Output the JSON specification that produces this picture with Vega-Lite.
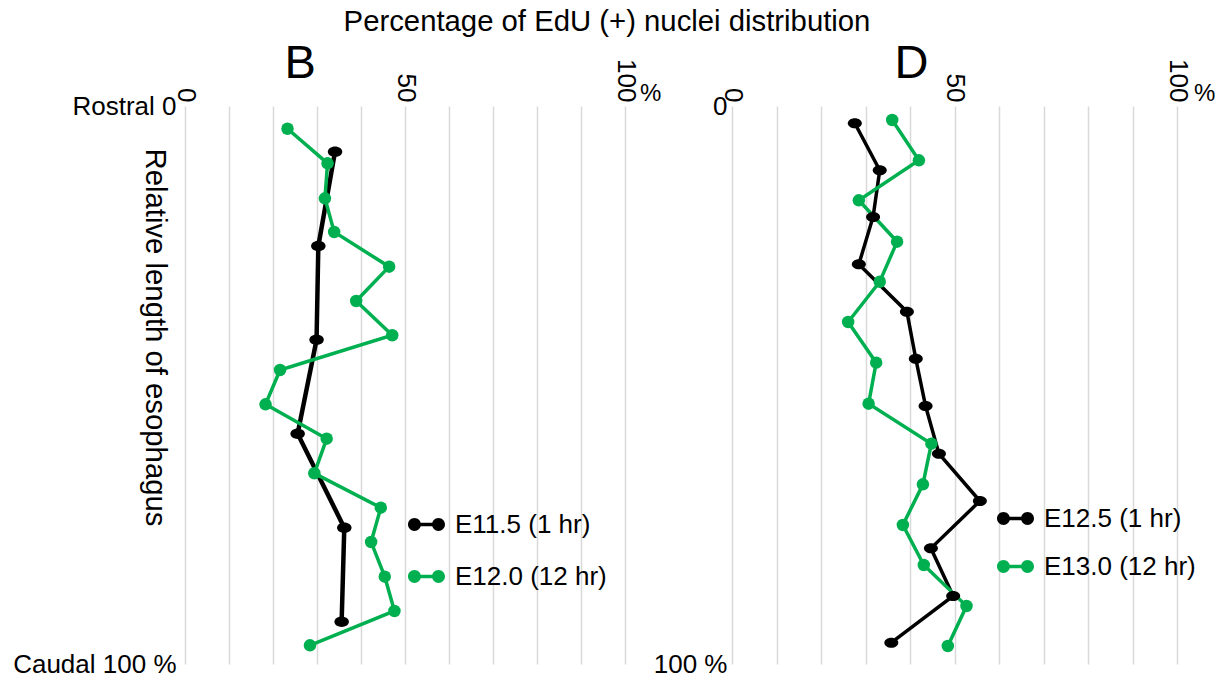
{
  "$schema": "https://vega.github.io/schema/vega-lite/v6.json",
  "background": "white",
  "padding": {"left": 12, "top": 7, "right": 5, "bottom": 5},
  "config": {
    "font": "Liberation Sans",
    "view": {"stroke": null},
    "axis": {"domain": false, "ticks": false, "labelColor": "black", "titleColor": "black", "labelFont": "Liberation Sans", "titleFont": "Liberation Sans", "titleFontWeight": "normal"},
    "legend": {"labelColor": "black", "labelFont": "Liberation Sans"},
    "title": {"font": "Liberation Sans", "fontWeight": "normal", "color": "black"}
  },
  "title": {"text": "Percentage of EdU (+) nuclei distribution", "fontSize": 29.3, "anchor": "middle", "frame": "group", "dx": 422, "offset": 2},
  "datasets": {
    "B": [
      {"series": "E11.5 (1 hr)", "length": 8.19, "pct": 34.1},
      {"series": "E11.5 (1 hr)", "length": 25.09, "pct": 30.3},
      {"series": "E11.5 (1 hr)", "length": 41.88, "pct": 29.9},
      {"series": "E11.5 (1 hr)", "length": 58.73, "pct": 25.6},
      {"series": "E11.5 (1 hr)", "length": 75.57, "pct": 36.2},
      {"series": "E11.5 (1 hr)", "length": 92.42, "pct": 35.6},
      {"series": "E12.0 (12 hr)", "length": 4.07, "pct": 23.3},
      {"series": "E12.0 (12 hr)", "length": 10.27, "pct": 32.4},
      {"series": "E12.0 (12 hr)", "length": 16.54, "pct": 31.8},
      {"series": "E12.0 (12 hr)", "length": 22.58, "pct": 33.9},
      {"series": "E12.0 (12 hr)", "length": 28.8, "pct": 46.4},
      {"series": "E12.0 (12 hr)", "length": 34.95, "pct": 38.9},
      {"series": "E12.0 (12 hr)", "length": 41.09, "pct": 47.1},
      {"series": "E12.0 (12 hr)", "length": 47.31, "pct": 21.6},
      {"series": "E12.0 (12 hr)", "length": 53.46, "pct": 18.3},
      {"series": "E12.0 (12 hr)", "length": 59.62, "pct": 32.2},
      {"series": "E12.0 (12 hr)", "length": 65.82, "pct": 29.4},
      {"series": "E12.0 (12 hr)", "length": 71.99, "pct": 44.5},
      {"series": "E12.0 (12 hr)", "length": 78.14, "pct": 42.3},
      {"series": "E12.0 (12 hr)", "length": 84.35, "pct": 45.4},
      {"series": "E12.0 (12 hr)", "length": 90.5, "pct": 47.6},
      {"series": "E12.0 (12 hr)", "length": 96.65, "pct": 28.4}
    ],
    "D": [
      {"series": "E12.5 (1 hr)", "length": 3.1, "pct": 27.6},
      {"series": "E12.5 (1 hr)", "length": 11.52, "pct": 33.2},
      {"series": "E12.5 (1 hr)", "length": 19.89, "pct": 31.7},
      {"series": "E12.5 (1 hr)", "length": 28.37, "pct": 28.5},
      {"series": "E12.5 (1 hr)", "length": 36.86, "pct": 39.3},
      {"series": "E12.5 (1 hr)", "length": 45.29, "pct": 41.3},
      {"series": "E12.5 (1 hr)", "length": 53.76, "pct": 43.5},
      {"series": "E12.5 (1 hr)", "length": 62.31, "pct": 46.5},
      {"series": "E12.5 (1 hr)", "length": 70.79, "pct": 55.7},
      {"series": "E12.5 (1 hr)", "length": 79.27, "pct": 44.7},
      {"series": "E12.5 (1 hr)", "length": 87.81, "pct": 49.7},
      {"series": "E12.5 (1 hr)", "length": 96.18, "pct": 35.8},
      {"series": "E13.0 (12 hr)", "length": 2.51, "pct": 36.0},
      {"series": "E13.0 (12 hr)", "length": 9.73, "pct": 42.0},
      {"series": "E13.0 (12 hr)", "length": 16.9, "pct": 28.5},
      {"series": "E13.0 (12 hr)", "length": 24.32, "pct": 37.1},
      {"series": "E13.0 (12 hr)", "length": 31.49, "pct": 33.2},
      {"series": "E13.0 (12 hr)", "length": 38.71, "pct": 26.1},
      {"series": "E13.0 (12 hr)", "length": 46.0, "pct": 32.4},
      {"series": "E13.0 (12 hr)", "length": 53.35, "pct": 30.7},
      {"series": "E13.0 (12 hr)", "length": 60.52, "pct": 44.8},
      {"series": "E13.0 (12 hr)", "length": 67.8, "pct": 42.9},
      {"series": "E13.0 (12 hr)", "length": 75.09, "pct": 38.4},
      {"series": "E13.0 (12 hr)", "length": 82.26, "pct": 43.1},
      {"series": "E13.0 (12 hr)", "length": 89.61, "pct": 52.7},
      {"series": "E13.0 (12 hr)", "length": 96.77, "pct": 48.5}
    ]
  },
  "spacing": 107,
  "bounds": "flush",
  "resolve": {
    "scale": {"color": "independent"},
    "legend": {"color": "independent"}
  },
  "hconcat": [
    {
      "width": 440,
      "height": 558,
      "layer": [
        {
          "data": {"name": "B"},
          "transform": [{"filter": "datum.series == 'E11.5 (1 hr)'"}],
          "mark": {"type": "line", "color": "#000000", "strokeWidth": 4.5},
          "encoding": {
            "x": {"field": "pct", "type": "quantitative", "scale": {"domain": [0, 100], "nice": false},
              "axis": {"orient": "top", "values": [0, 10, 20, 30, 40, 50, 60, 70, 80, 90, 100], "labelExpr": "datum.value % 50 == 0 ? datum.label : ''", "labelAngle": 90, "labelAlign": "right", "labelBaseline": "middle", "labelFontSize": 26, "labelPadding": 4, "labelFlush": false, "labelOverlap": false, "grid": true, "gridColor": "#d9d9d9", "gridWidth": 1.5,
                "title": "B", "titleFontSize": 47, "titleX": 99, "titleY": -29, "titleAlign": "left", "titleBaseline": "alphabetic", "titleAngle": 0}},
            "y": {"field": "length", "type": "quantitative", "scale": {"domain": [0, 100], "reverse": true, "nice": false},
              "axis": {"values": [0, 100], "labelExpr": "datum.value == 0 ? 'Rostral 0' : 'Caudal 100 %'", "grid": false, "labelFontSize": 26, "labelPadding": 9, "labelFlush": false, "labelBaseline": "middle",
                "title": "Relative length of esophagus", "titleFontSize": 29.3, "titleAngle": 90, "titleX": -31, "titleY": 231, "titleAlign": "center", "titleBaseline": "middle"}},
            "order": {"field": "length", "type": "quantitative"}
          }
        },
        {
          "data": {"name": "B"},
          "transform": [{"filter": "datum.series == 'E12.0 (12 hr)'"}],
          "mark": {"type": "line", "color": "#00b050", "strokeWidth": 3.5},
          "encoding": {
            "x": {"field": "pct", "type": "quantitative"},
            "y": {"field": "length", "type": "quantitative"},
            "order": {"field": "length", "type": "quantitative"}
          }
        },
        {
          "data": {"name": "B"},
          "transform": [{"filter": "datum.series == 'E11.5 (1 hr)'"}],
          "mark": {"type": "point", "filled": true, "opacity": 1, "shape": "M-1,0A1,0.72 0 1,1 1,0A1,0.72 0 1,1 -1,0Z", "size": 210},
          "encoding": {
            "x": {"field": "pct", "type": "quantitative"},
            "y": {"field": "length", "type": "quantitative"},
            "color": {"field": "series", "type": "nominal", "scale": {"domain": ["E11.5 (1 hr)", "E12.0 (12 hr)"], "range": ["#000000", "#00b050"]},
              "legend": {"orient": "none", "legendX": 223, "legendY": 400, "title": null, "symbolType": "M-0.3,0A0.35,0.35 0 1,1 -1,0A0.35,0.35 0 1,1 -0.3,0Z M1,0A0.35,0.35 0 1,1 0.3,0A0.35,0.35 0 1,1 1,0Z M-0.65,-0.09L0.65,-0.09L0.65,0.09L-0.65,0.09Z", "symbolSize": 1369, "symbolStrokeWidth": 0, "symbolOpacity": 1, "labelFontSize": 26, "labelOffset": 10, "rowPadding": 20, "padding": 0,
                "encode": {"symbols": {"update": {"shape": {"value": "M-0.3,0A0.35,0.35 0 1,1 -1,0A0.35,0.35 0 1,1 -0.3,0Z M1,0A0.35,0.35 0 1,1 0.3,0A0.35,0.35 0 1,1 1,0Z M-0.65,-0.09L0.65,-0.09L0.65,0.09L-0.65,0.09Z"}, "size": {"value": 1369}, "strokeWidth": {"value": 0}}}}}}
          }
        },
        {
          "data": {"name": "B"},
          "transform": [{"filter": "datum.series == 'E12.0 (12 hr)'"}],
          "mark": {"type": "point", "filled": true, "opacity": 1, "shape": "circle", "size": 156},
          "encoding": {
            "x": {"field": "pct", "type": "quantitative"},
            "y": {"field": "length", "type": "quantitative"},
            "color": {"field": "series", "type": "nominal", "scale": {"domain": ["E11.5 (1 hr)", "E12.0 (12 hr)"], "range": ["#000000", "#00b050"]},
              "legend": {"orient": "none", "legendX": 223, "legendY": 400, "title": null, "symbolType": "M-0.3,0A0.35,0.35 0 1,1 -1,0A0.35,0.35 0 1,1 -0.3,0Z M1,0A0.35,0.35 0 1,1 0.3,0A0.35,0.35 0 1,1 1,0Z M-0.65,-0.09L0.65,-0.09L0.65,0.09L-0.65,0.09Z", "symbolSize": 1369, "symbolStrokeWidth": 0, "symbolOpacity": 1, "labelFontSize": 26, "labelOffset": 10, "rowPadding": 20, "padding": 0,
                "encode": {"symbols": {"update": {"shape": {"value": "M-0.3,0A0.35,0.35 0 1,1 -1,0A0.35,0.35 0 1,1 -0.3,0Z M1,0A0.35,0.35 0 1,1 0.3,0A0.35,0.35 0 1,1 1,0Z M-0.65,-0.09L0.65,-0.09L0.65,0.09L-0.65,0.09Z"}, "size": {"value": 1369}, "strokeWidth": {"value": 0}}}}}}
          }
        },
        {
          "data": {"values": [{}]},
          "mark": {"type": "text", "text": "%", "align": "left", "baseline": "alphabetic", "dx": 15, "dy": -5, "fontSize": 24, "color": "black"},
          "encoding": {"x": {"datum": 100}, "y": {"datum": 0}}
        }
      ]
    },
    {
      "width": 445,
      "height": 558,
      "layer": [
        {
          "data": {"name": "D"},
          "transform": [{"filter": "datum.series == 'E12.5 (1 hr)'"}],
          "mark": {"type": "line", "color": "#000000", "strokeWidth": 3.5},
          "encoding": {
            "x": {"field": "pct", "type": "quantitative", "scale": {"domain": [0, 100], "nice": false},
              "axis": {"orient": "top", "values": [0, 10, 20, 30, 40, 50, 60, 70, 80, 90, 100], "labelExpr": "datum.value % 50 == 0 ? datum.label : ''", "labelAngle": 90, "labelAlign": "right", "labelBaseline": "middle", "labelFontSize": 26, "labelPadding": 4, "labelFlush": false, "labelOverlap": false, "grid": true, "gridColor": "#d9d9d9", "gridWidth": 1.5,
                "title": "D", "titleFontSize": 47, "titleX": 162, "titleY": -29, "titleAlign": "left", "titleBaseline": "alphabetic", "titleAngle": 0}},
            "y": {"field": "length", "type": "quantitative", "scale": {"domain": [0, 100], "reverse": true, "nice": false},
              "axis": {"values": [0, 100], "labelExpr": "datum.value == 0 ? '0' : '100 %'", "grid": false, "labelFontSize": 26, "labelPadding": 5, "labelFlush": false, "labelBaseline": "middle", "title": null}},
            "order": {"field": "length", "type": "quantitative"}
          }
        },
        {
          "data": {"name": "D"},
          "transform": [{"filter": "datum.series == 'E13.0 (12 hr)'"}],
          "mark": {"type": "line", "color": "#00b050", "strokeWidth": 3.5},
          "encoding": {
            "x": {"field": "pct", "type": "quantitative"},
            "y": {"field": "length", "type": "quantitative"},
            "order": {"field": "length", "type": "quantitative"}
          }
        },
        {
          "data": {"name": "D"},
          "transform": [{"filter": "datum.series == 'E12.5 (1 hr)'"}],
          "mark": {"type": "point", "filled": true, "opacity": 1, "shape": "M-1,0A1,0.72 0 1,1 1,0A1,0.72 0 1,1 -1,0Z", "size": 196},
          "encoding": {
            "x": {"field": "pct", "type": "quantitative"},
            "y": {"field": "length", "type": "quantitative"},
            "color": {"field": "series", "type": "nominal", "scale": {"domain": ["E12.5 (1 hr)", "E13.0 (12 hr)"], "range": ["#000000", "#00b050"]},
              "legend": {"orient": "none", "legendX": 265, "legendY": 394, "title": null, "symbolType": "M-0.3,0A0.35,0.35 0 1,1 -1,0A0.35,0.35 0 1,1 -0.3,0Z M1,0A0.35,0.35 0 1,1 0.3,0A0.35,0.35 0 1,1 1,0Z M-0.65,-0.09L0.65,-0.09L0.65,0.09L-0.65,0.09Z", "symbolSize": 1369, "symbolStrokeWidth": 0, "symbolOpacity": 1, "labelFontSize": 26, "labelOffset": 10, "rowPadding": 16, "padding": 0,
                "encode": {"symbols": {"update": {"shape": {"value": "M-0.3,0A0.35,0.35 0 1,1 -1,0A0.35,0.35 0 1,1 -0.3,0Z M1,0A0.35,0.35 0 1,1 0.3,0A0.35,0.35 0 1,1 1,0Z M-0.65,-0.09L0.65,-0.09L0.65,0.09L-0.65,0.09Z"}, "size": {"value": 1369}, "strokeWidth": {"value": 0}}}}}}
          }
        },
        {
          "data": {"name": "D"},
          "transform": [{"filter": "datum.series == 'E13.0 (12 hr)'"}],
          "mark": {"type": "point", "filled": true, "opacity": 1, "shape": "circle", "size": 156},
          "encoding": {
            "x": {"field": "pct", "type": "quantitative"},
            "y": {"field": "length", "type": "quantitative"},
            "color": {"field": "series", "type": "nominal", "scale": {"domain": ["E12.5 (1 hr)", "E13.0 (12 hr)"], "range": ["#000000", "#00b050"]},
              "legend": {"orient": "none", "legendX": 265, "legendY": 394, "title": null, "symbolType": "M-0.3,0A0.35,0.35 0 1,1 -1,0A0.35,0.35 0 1,1 -0.3,0Z M1,0A0.35,0.35 0 1,1 0.3,0A0.35,0.35 0 1,1 1,0Z M-0.65,-0.09L0.65,-0.09L0.65,0.09L-0.65,0.09Z", "symbolSize": 1369, "symbolStrokeWidth": 0, "symbolOpacity": 1, "labelFontSize": 26, "labelOffset": 10, "rowPadding": 16, "padding": 0,
                "encode": {"symbols": {"update": {"shape": {"value": "M-0.3,0A0.35,0.35 0 1,1 -1,0A0.35,0.35 0 1,1 -0.3,0Z M1,0A0.35,0.35 0 1,1 0.3,0A0.35,0.35 0 1,1 1,0Z M-0.65,-0.09L0.65,-0.09L0.65,0.09L-0.65,0.09Z"}, "size": {"value": 1369}, "strokeWidth": {"value": 0}}}}}}
          }
        },
        {
          "data": {"values": [{}]},
          "mark": {"type": "text", "text": "%", "align": "left", "baseline": "alphabetic", "dx": 17, "dy": -5, "fontSize": 24, "color": "black"},
          "encoding": {"x": {"datum": 100}, "y": {"datum": 0}}
        }
      ]
    }
  ]
}
